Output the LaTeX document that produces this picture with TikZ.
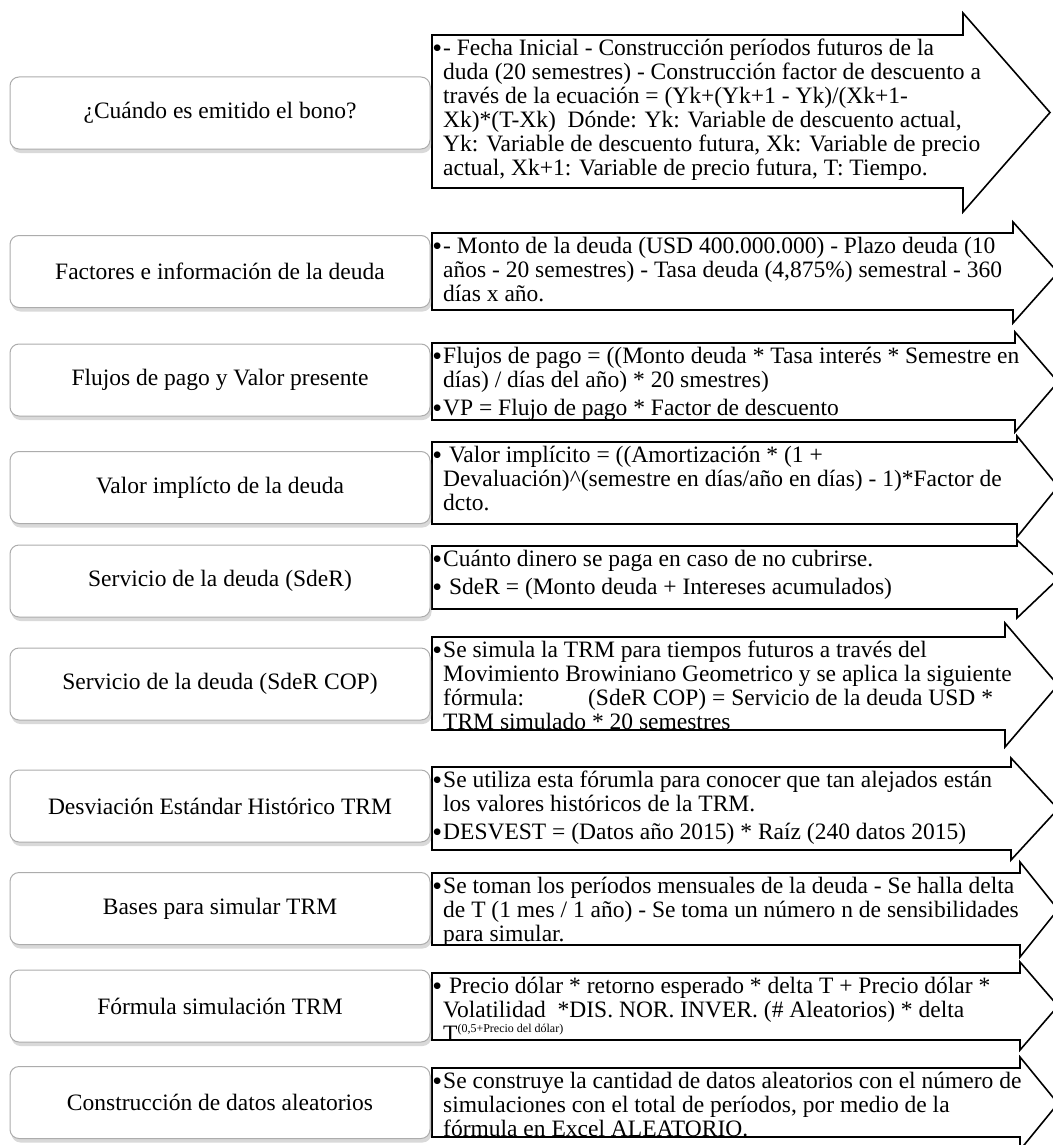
\documentclass[tikz,border=0pt]{standalone}
\usepackage{fontspec}
\setmainfont{Liberation Serif}
\usetikzlibrary{shadows}
\setlength{\lineskiplimit}{-100pt}

% viñeta colgada a la izquierda
\newcommand{\vin}{\llap{\raisebox{-2pt}{\fontsize{28}{28}\selectfont\textbullet}\hspace{1pt}}}
% flecha: cuerpo arriba, cuerpo abajo, punta arriba, punta abajo, x de la punta, x del vértice
\newcommand{\dibujaflecha}[6]{%
  \draw[flecha] (432,#1) -- (#5,#1) -- (#5,#3) -- ({#6},{(#3+#4)/2}) -- (#5,#4) -- (#5,#2) -- (432,#2) -- cycle;}

\begin{document}
\begin{tikzpicture}[
    x=1pt, y=-1pt,
    every node/.style={font=\fontsize{23.5}{24}\selectfont},
    paso/.style={draw=gray!65, line width=1pt, rounded corners=9pt, fill=white,
        minimum width=420pt, minimum height=72pt,
        drop shadow={shadow xshift=1.5pt, shadow yshift=-4pt, opacity=0.3}},
    flecha/.style={draw=black, line width=1.6pt, fill=white},
    texto/.style={anchor=north west, align=left, inner sep=0pt, execute at begin node=\strut}
]
\useasboundingbox (0,0) rectangle (1052,1145);

% 右侧箭头
\dibujaflecha{35}{188}{13}{212}{963}{1050}
\dibujaflecha{233}{310}{222}{323}{1013}{1058}
\dibujaflecha{343}{420}{332}{432}{1015}{1058}
\dibujaflecha{442}{524}{436}{537}{1017}{1058}
\dibujaflecha{546}{609}{540}{618}{1017}{1058}
\dibujaflecha{637}{730}{623}{747}{1005}{1058}
\dibujaflecha{767}{850}{758}{860}{1011}{1058}
\dibujaflecha{873}{945}{862}{957}{1020}{1058}
\dibujaflecha{973}{1040}{962}{1050}{1020}{1058}
\dibujaflecha{1068}{1137}{1057}{1150}{1020}{1058}

% 左侧圆角框
\node[paso] (paso1) at (220,113) {¿Cuándo es emitido el bono?};
\node[paso] (paso2) at (220,271.5) {Factores e información de la deuda};
\node[paso] (paso3) at (220,380) {Flujos de pago y Valor presente};
\node[paso] (paso4) at (220,487.5) {Valor implícto de la deuda};
\node[paso] (paso5) at (220,581) {Servicio de la deuda (SdeR)};
\node[paso] (paso6) at (220,684) {Servicio de la deuda (SdeR COP)};
\node[paso] (paso7) at (220,806) {Desviación Estándar Histórico TRM};
\node[paso] (paso8) at (220,908.5) {Bases para simular TRM};
\node[paso] (paso9) at (220,1006) {Fórmula simulación TRM};
\node[paso] (paso10) at (220,1102.5) {Construcción de datos aleatorios};

% 箭头文字
\node[texto] (texto1) at (443,39.2) {\vin- Fecha Inicial - Construcción períodos futuros de la\\
duda (20 semestres) - Construcción factor de descuento a\\
través de la ecuación = (Yk+(Yk+1 - Yk)/(Xk+1-\\
Xk)*(T-Xk)\ \ Dónde: Yk: Variable de descuento actual,\\
Yk: Variable de descuento futura, Xk: Variable de precio\\
actual, Xk+1: Variable de precio futura, T: Tiempo.};
\node[texto] (texto2) at (443,237.2) {\vin- Monto de la deuda (USD 400.000.000) - Plazo deuda (10\\
años - 20 semestres) - Tasa deuda (4,875\%) semestral - 360\\
días x año.};
\node[texto] (texto3) at (443,347.2) {\vin Flujos de pago = ((Monto deuda * Tasa interés * Semestre en\\
días) / días del año) * 20 smestres)\\[4pt]\vin VP = Flujo de pago * Factor de descuento};
\node[texto] (texto4) at (443,446.2) {\vin\ Valor implícito = ((Amortización * (1 +\\
Devaluación)\textasciicircum(semestre en días/año en días) - 1)*Factor de\\
dcto.};
\node[texto] (texto5) at (443,550.2) {\vin Cuánto dinero se paga en caso de no cubrirse.\\[4pt]\vin\ SdeR = (Monto deuda + Intereses acumulados)};
\node[texto] (texto6) at (443,641.2) {\vin Se simula la TRM para tiempos futuros a través del\\
Movimiento Browiniano Geometrico y se aplica la siguiente\\
fórmula:\hspace{64pt}(SdeR COP) = Servicio de la deuda USD *\\
TRM simulado * 20 semestres};
\node[texto] (texto7) at (443,771.2) {\vin Se utiliza esta fórumla para conocer que tan alejados están\\
los valores históricos de la TRM.\\[4pt]\vin DESVEST = (Datos año 2015) * Raíz (240 datos 2015)};
\node[texto] (texto8) at (443,877.2) {\vin Se toman los períodos mensuales de la deuda - Se halla delta\\
de T (1 mes / 1 año) - Se toma un número n de sensibilidades\\
para simular.};
\node[texto] (texto9) at (443,977.2) {\vin\ Precio dólar * retorno esperado * delta T + Precio dólar *\\
Volatilidad\ \ *DIS. NOR. INVER. (\# Aleatorios) * delta\\
T\raisebox{9pt}{\fontsize{12}{12}\selectfont(0,5+Precio del dólar)}};
\node[texto] (texto10) at (443,1072.2) {\vin Se construye la cantidad de datos aleatorios con el número de\\
simulaciones con el total de períodos, por medio de la\\
fórmula en Excel ALEATORIO.};

\end{tikzpicture}
\end{document}
